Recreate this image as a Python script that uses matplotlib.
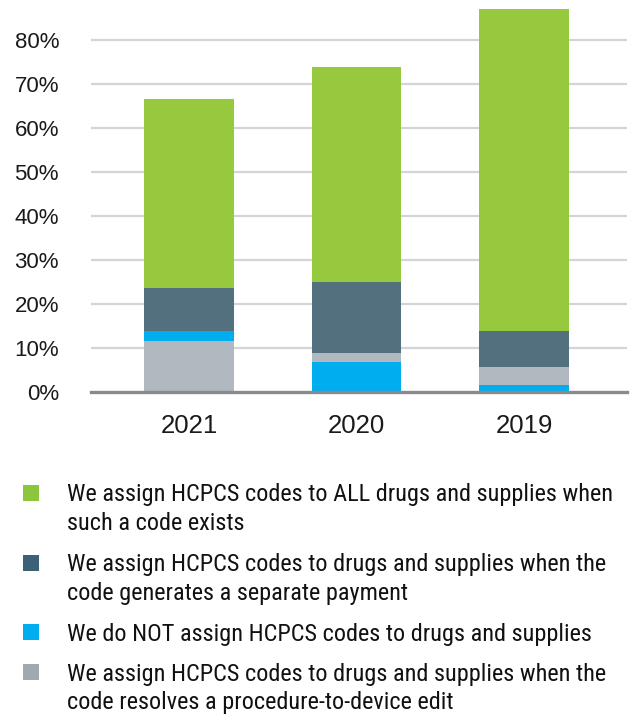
import matplotlib
matplotlib.use("Agg")
import matplotlib.pyplot as plt
from matplotlib import font_manager
from matplotlib.patches import Rectangle
import numpy as np

years = ["2021", "2020", "2019"]
series_names = [
    "We assign HCPCS codes to ALL drugs and supplies when\nsuch a code exists",
    "We assign HCPCS codes to drugs and supplies when the\ncode generates a separate payment",
    "We do NOT assign HCPCS codes to drugs and supplies",
    "We assign HCPCS codes to drugs and supplies when the\ncode resolves a procedure-to-device edit",
]
all_codes = [42.9, 48.9, 73.1]
separate_payment = [9.9, 16.1, 8.2]
do_not_assign = [2.3, 6.8, 1.6]
device_edit = [11.5, 2.1, 4.1]
yticks = [0, 10, 20, 30, 40, 50, 60, 70, 80]

bar_colors = ["#97c93e", "#53707e", "#00aeef", "#b2b8bf"]
legend_colors = ["#8cc63f", "#3b6179", "#00aeef", "#a0a8b1"]

# stacking order (bottom to top) for each year
stack_order = [
    [3, 2, 1, 0],
    [2, 3, 1, 0],
    [2, 3, 1, 0],
]

installed = {f.name for f in font_manager.fontManager.ttflist}
narrow = next((f for f in ["Roboto Condensed", "Archivo Narrow", "PT Sans Narrow",
                           "Liberation Sans Narrow", "Open Sans Condensed",
                           "Liberation Sans"] if f in installed), "DejaVu Sans")

W, H = 639, 715
fig = plt.figure(figsize=(W / 100, H / 100), dpi=100)
ax = fig.add_axes([91 / W, (H - 392) / H, (627 - 91) / W, 392 / H])

values = [all_codes, separate_payment, do_not_assign, device_edit]
x = np.arange(len(years))
for i in range(len(years)):
    bottom = 0.0
    for s in stack_order[i]:
        v = values[s][i]
        ax.bar(x[i], v, bottom=bottom, width=0.537, color=bar_colors[s],
               linewidth=0, zorder=3)
        bottom += v

ax.set_xlim(-0.585, 2.615)
ax.set_ylim(0, 89.1)
ax.set_yticks(yticks)
ax.set_yticklabels([f"{t}%" for t in yticks], family="Liberation Sans", fontsize=16,
                   color="#1a1a1a")
ax.set_xticks(x)
ax.set_xticklabels(years, family="Liberation Sans", fontsize=18.5, color="#1a1a1a")
ax.tick_params(axis="y", length=0, pad=23)
ax.tick_params(axis="x", length=0, pad=16)
for t in yticks[1:]:
    ax.axhline(t, color="#d3d3da", linewidth=1.6, zorder=1)
for side in ["left", "right", "top"]:
    ax.spines[side].set_visible(False)
ax.spines["bottom"].set_color("#8a8a8e")
ax.spines["bottom"].set_linewidth(2.4)
ax.spines["bottom"].set_zorder(4)

# legend block
first_line_centers = [493, 563, 632, 672]
line_gap = 28.5
legend_texts = []
for name, col, yc in zip(series_names, legend_colors, first_line_centers):
    fig.patches.append(Rectangle(((31 - 8) / W, (H - yc - 8) / H), 16 / W, 16 / H,
                                 transform=fig.transFigure, color=col, linewidth=0))
    for k, line in enumerate(name.split("\n")):
        yb = yc + 8.5 + k * line_gap
        legend_texts.append(fig.text(67 / W, (H - yb) / H, line, family=narrow,
                                     fontsize=17.5, color="#111111",
                                     va="baseline", ha="left"))

# size the legend text so its widest line spans the space to the right edge
renderer = fig.canvas.get_renderer()
widest = max(t.get_window_extent(renderer).width for t in legend_texts)
scale = min(1.0, 558.0 / widest)
for t in legend_texts:
    t.set_fontsize(17.5 * scale)

fig.savefig("out.png", dpi=100)
